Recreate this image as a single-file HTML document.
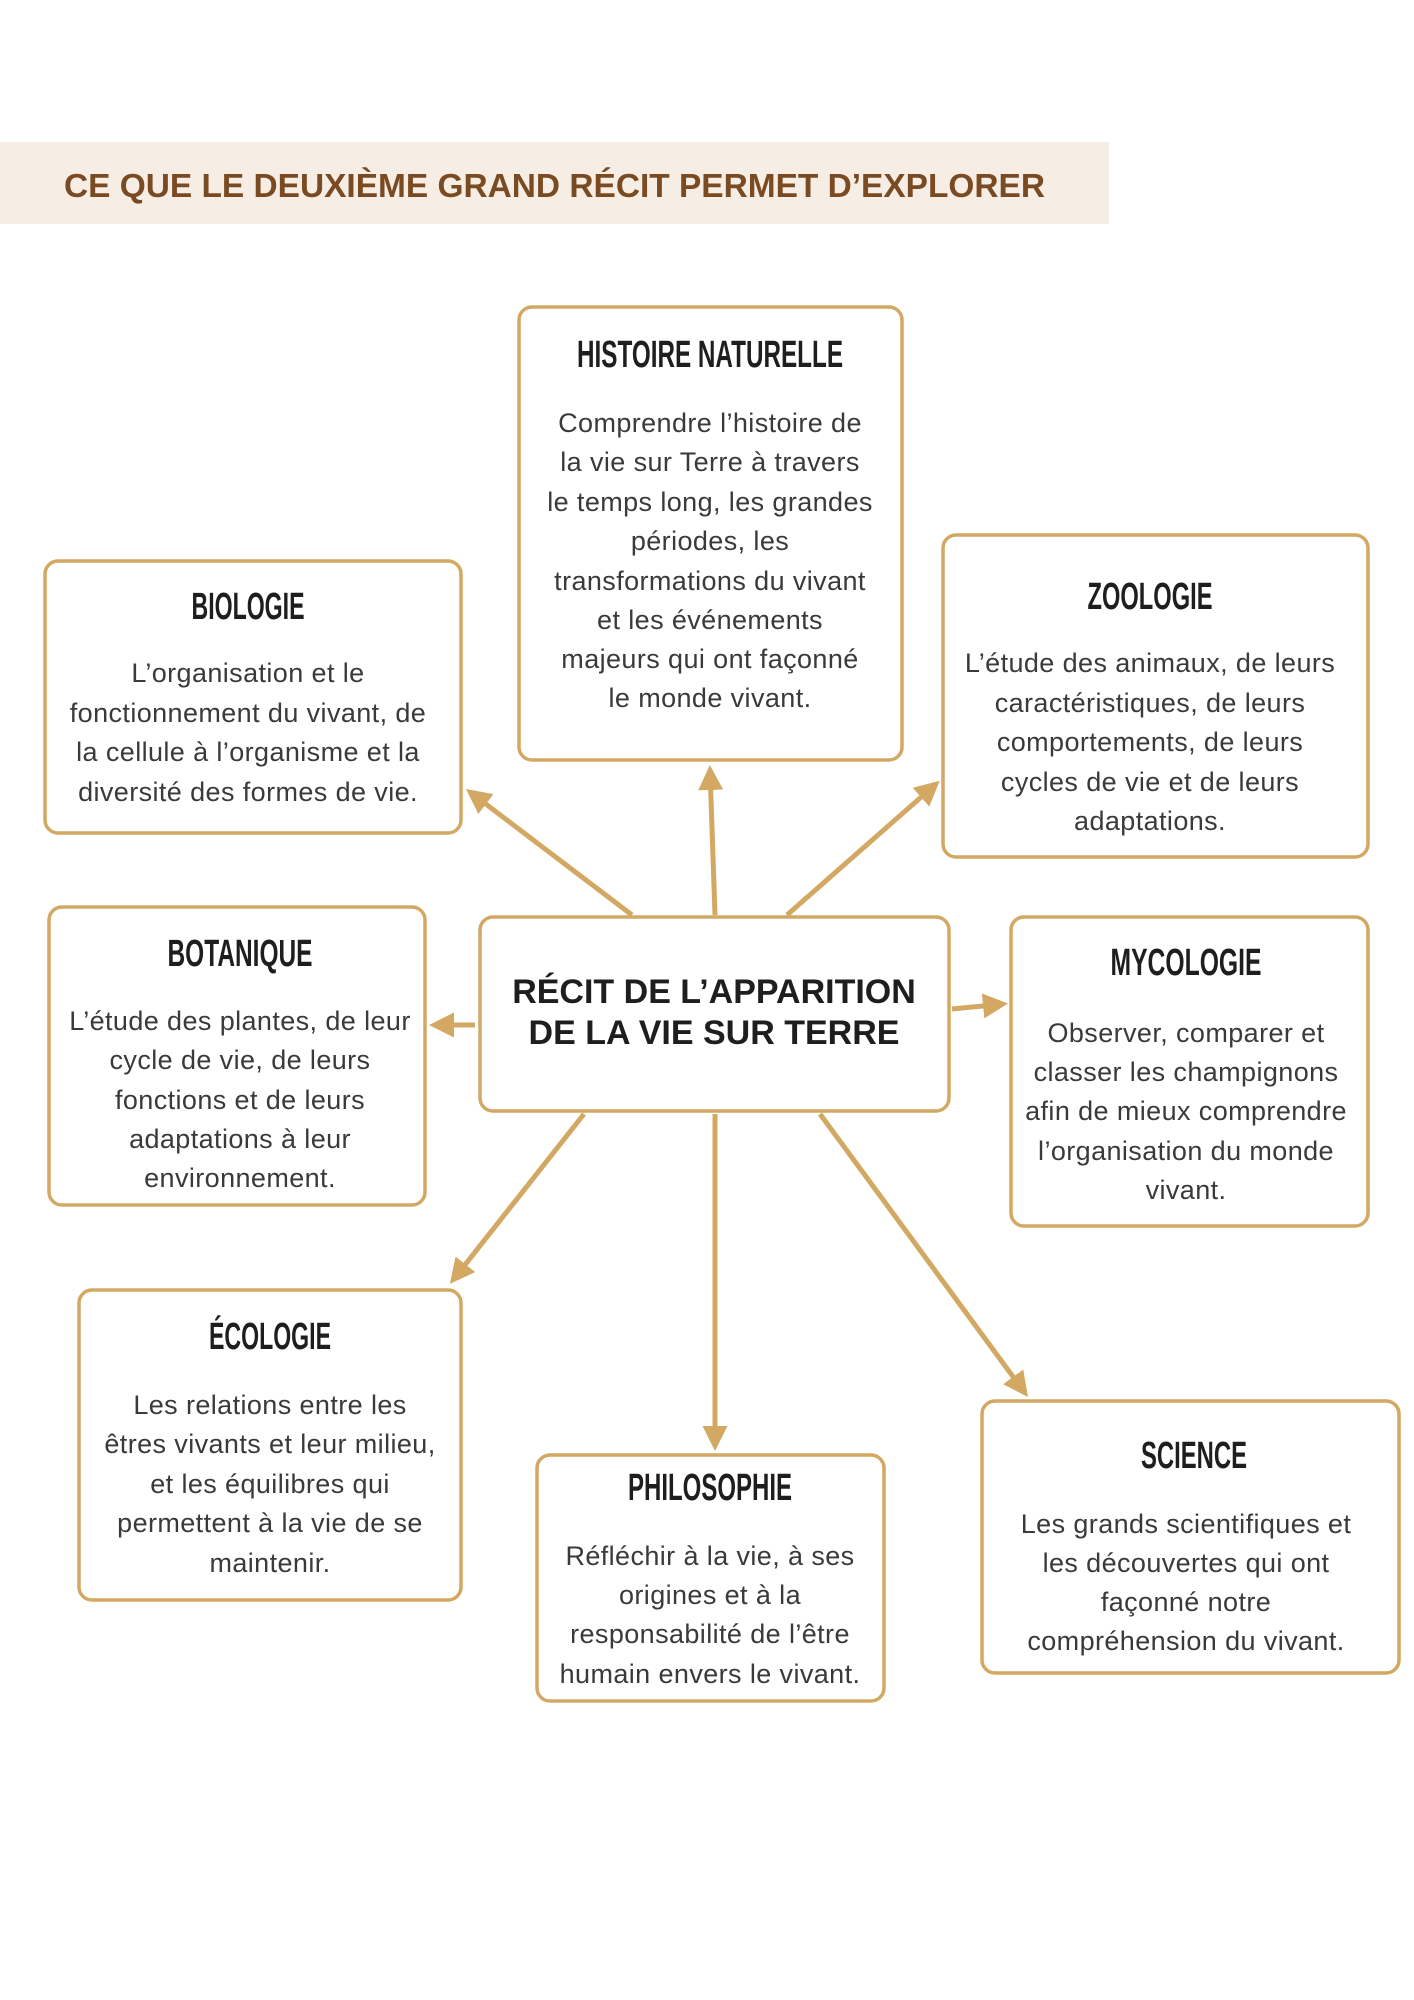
<!DOCTYPE html>
<html><head><meta charset="utf-8"><style>
html,body{margin:0;padding:0;background:#fff}
svg{display:block}
.t{font-family:"Liberation Sans",sans-serif;font-weight:bold;font-size:38px;fill:#1e1e1e;text-anchor:middle}
.b{font-family:"Liberation Sans",sans-serif;font-size:27px;letter-spacing:0.4px;fill:#3a3a3a;text-anchor:middle}
.box{fill:#fff;stroke:#d2a862;stroke-width:3.5}
.ln{stroke:#d2a862;stroke-width:5;fill:none}
</style></head><body>
<svg width="1414" height="2000" viewBox="0 0 1414 2000" xmlns="http://www.w3.org/2000/svg">
<defs><marker id="a" viewBox="0 0 10 10" refX="8" refY="5" markerWidth="5" markerHeight="5" orient="auto"><path d="M0,0 L10,5 L0,10 Z" fill="#d2a862"/></marker></defs>
<rect x="0" y="142" width="1109" height="82" fill="#f6ede4"/>
<text x="64" y="197" font-family="Liberation Sans,sans-serif" font-weight="bold" font-size="33" fill="#7a4a22" textLength="981" lengthAdjust="spacingAndGlyphs">CE QUE LE DEUXIÈME GRAND RÉCIT PERMET D’EXPLORER</text>

<g class="ln">
<line x1="632" y1="915" x2="470" y2="792" marker-end="url(#a)"/>
<line x1="715" y1="915" x2="710" y2="770" marker-end="url(#a)"/>
<line x1="787" y1="915" x2="936" y2="784" marker-end="url(#a)"/>
<line x1="475" y1="1025" x2="434" y2="1025" marker-end="url(#a)"/>
<line x1="952" y1="1009" x2="1003" y2="1004" marker-end="url(#a)"/>
<line x1="584" y1="1114" x2="453" y2="1280" marker-end="url(#a)"/>
<line x1="715" y1="1114" x2="715" y2="1446" marker-end="url(#a)"/>
<line x1="820" y1="1114" x2="1025" y2="1393" marker-end="url(#a)"/>
</g>

<rect class="box" x="519" y="307" width="383" height="453" rx="13"/>
<text class="t" x="710" y="367" textLength="266" lengthAdjust="spacingAndGlyphs">HISTOIRE NATURELLE</text>
<g class="b"><text x="710" y="432">Comprendre l’histoire de</text><text x="710" y="471">la vie sur Terre à travers</text><text x="710" y="511">le temps long, les grandes</text><text x="710" y="550">périodes, les</text><text x="710" y="590">transformations du vivant</text><text x="710" y="629">et les événements</text><text x="710" y="668">majeurs qui ont façonné</text><text x="710" y="707">le monde vivant.</text></g>

<rect class="box" x="45" y="561" width="416" height="272" rx="13"/>
<text class="t" x="248" y="619" textLength="113" lengthAdjust="spacingAndGlyphs">BIOLOGIE</text>
<g class="b"><text x="248" y="682">L’organisation et le</text><text x="248" y="722">fonctionnement du vivant, de</text><text x="248" y="761">la cellule à l’organisme et la</text><text x="248" y="801">diversité des formes de vie.</text></g>

<rect class="box" x="943" y="535" width="425" height="322" rx="13"/>
<text class="t" x="1150" y="609" textLength="125" lengthAdjust="spacingAndGlyphs">ZOOLOGIE</text>
<g class="b"><text x="1150" y="672">L’étude des animaux, de leurs</text><text x="1150" y="712">caractéristiques, de leurs</text><text x="1150" y="751">comportements, de leurs</text><text x="1150" y="791">cycles de vie et de leurs</text><text x="1150" y="830">adaptations.</text></g>

<rect class="box" x="480" y="917" width="469" height="194" rx="13"/>
<g font-family="Liberation Sans,sans-serif" font-weight="bold" font-size="34" fill="#1e1e1e" text-anchor="middle"><text x="714" y="1003">RÉCIT DE L’APPARITION</text><text x="714" y="1044">DE LA VIE SUR TERRE</text></g>

<rect class="box" x="49" y="907" width="376" height="298" rx="13"/>
<text class="t" x="240" y="966" textLength="145" lengthAdjust="spacingAndGlyphs">BOTANIQUE</text>
<g class="b"><text x="240" y="1030">L’étude des plantes, de leur</text><text x="240" y="1069">cycle de vie, de leurs</text><text x="240" y="1109">fonctions et de leurs</text><text x="240" y="1148">adaptations à leur</text><text x="240" y="1187">environnement.</text></g>

<rect class="box" x="1011" y="917" width="357" height="309" rx="13"/>
<text class="t" x="1186" y="975" textLength="151" lengthAdjust="spacingAndGlyphs">MYCOLOGIE</text>
<g class="b"><text x="1186" y="1042">Observer, comparer et</text><text x="1186" y="1081">classer les champignons</text><text x="1186" y="1120">afin de mieux comprendre</text><text x="1186" y="1160">l’organisation du monde</text><text x="1186" y="1199">vivant.</text></g>

<rect class="box" x="79" y="1290" width="382" height="310" rx="13"/>
<text class="t" x="270" y="1349" textLength="122" lengthAdjust="spacingAndGlyphs">ÉCOLOGIE</text>
<g class="b"><text x="270" y="1414">Les relations entre les</text><text x="270" y="1453">êtres vivants et leur milieu,</text><text x="270" y="1493">et les équilibres qui</text><text x="270" y="1532">permettent à la vie de se</text><text x="270" y="1572">maintenir.</text></g>

<rect class="box" x="537" y="1455" width="347" height="246" rx="13"/>
<text class="t" x="710" y="1500" textLength="164" lengthAdjust="spacingAndGlyphs">PHILOSOPHIE</text>
<g class="b"><text x="710" y="1565">Réfléchir à la vie, à ses</text><text x="710" y="1604">origines et à la</text><text x="710" y="1643">responsabilité de l’être</text><text x="710" y="1683">humain envers le vivant.</text></g>

<rect class="box" x="982" y="1401" width="417" height="272" rx="13"/>
<text class="t" x="1194" y="1468" textLength="106" lengthAdjust="spacingAndGlyphs">SCIENCE</text>
<g class="b"><text x="1186" y="1533">Les grands scientifiques et</text><text x="1186" y="1572">les découvertes qui ont</text><text x="1186" y="1611">façonné notre</text><text x="1186" y="1650">compréhension du vivant.</text></g>
</svg>
</body></html>
